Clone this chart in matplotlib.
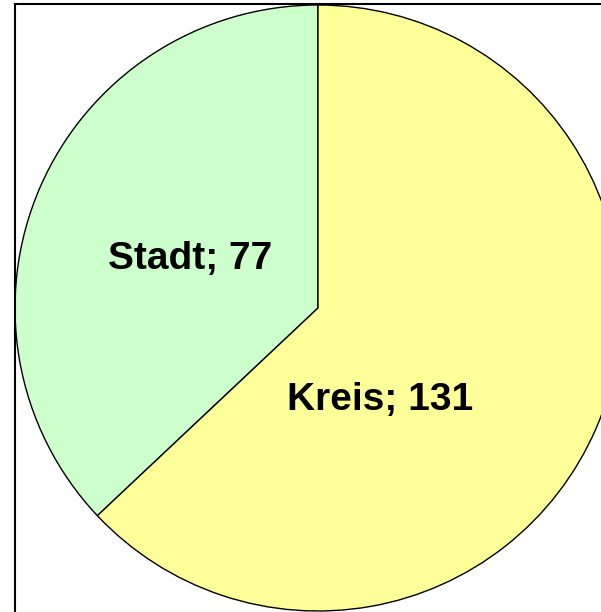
import matplotlib.pyplot as plt

categories = ['Stadt', 'Kreis']
values = [77, 131]
colors = ['#CCFFCC', '#FFFF99']

plt.rcParams['font.family'] = ['Liberation Sans', 'DejaVu Sans']

fig = plt.figure(figsize=(6.01, 6.12), dpi=100)
# axes in pixel units, frame only on left and top
ax = fig.add_axes([15 / 601, 0, 586 / 601, 608 / 612])
ax.set_xlim(15, 601)
ax.set_ylim(0, 608)

labels = [f'{c}; {v}' for c, v in zip(categories, values)]
wedges, texts = ax.pie(values, colors=colors, startangle=90, counterclock=True,
                       center=(318, 304), radius=303, frame=True,
                       wedgeprops=dict(edgecolor='black', linewidth=1.0),
                       labels=labels, labeldistance=0.48,
                       textprops=dict(fontsize=28, fontweight='bold', color='black'))
texts[0].set_position((190, 612 - 259))
texts[1].set_position((380, 612 - 400))
for t in texts:
    t.set_ha('center')
    t.set_va('center')

ax.set_aspect('auto')
ax.set_xlim(15, 601)
ax.set_ylim(0, 608)
ax.set_xticks([])
ax.set_yticks([])
ax.spines['right'].set_visible(False)
ax.spines['bottom'].set_visible(False)
ax.spines['left'].set_linewidth(1.5)
ax.spines['top'].set_linewidth(1.5)

fig.savefig('out.png', dpi=100)
